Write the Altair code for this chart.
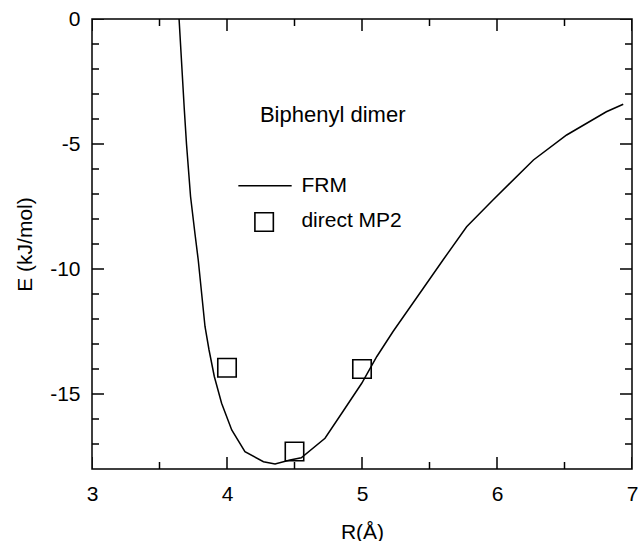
import altair as alt
import pandas as pd

# FRM curve
R = [3.645, 3.684, 3.70, 3.73, 3.763, 3.787, 3.812, 3.837, 3.867, 3.906, 3.96, 4.035,
     4.133, 4.27, 4.356, 4.467, 4.55, 4.726, 4.85, 4.998, 5.11, 5.23, 5.454, 5.6,
     5.775, 5.97, 6.27, 6.516, 6.81, 6.935]
E = [0.0, -3.64, -5.0, -7.1, -8.6, -9.64, -10.97, -12.3, -13.24, -14.3, -15.37, -16.44,
     -17.31, -17.71, -17.8, -17.64, -17.55, -16.77, -15.77, -14.57, -13.5, -12.5, -10.77, -9.64,
     -8.31, -7.24, -5.64, -4.64, -3.71, -3.41]

# direct MP2 points
mp2_R = [4.0, 4.5, 5.0]
mp2_E = [-13.95, -17.3, -14.0]

# ticks
x_major = [3, 4, 5, 6, 7]
x_minor = [3.5, 4.5, 5.5, 6.5]
y_major = [0, -5, -10, -15]
y_minor = [-1, -2, -3, -4, -6, -7, -8, -9, -11, -12, -13, -14, -16, -17]

X_DOM = [3, 7]
Y_DOM = [-18, 0]
FONT = "Liberation Sans"

curve = pd.DataFrame({"R": R, "E": E})
mp2 = pd.DataFrame({"R": mp2_R, "E": mp2_E})

xscale = alt.Scale(domain=X_DOM, nice=False, zero=False)
yscale = alt.Scale(domain=Y_DOM, nice=False, zero=False)

LABEL_EXPR = "datum.value < 0 ? '-' + format(-datum.value, 'd') : format(datum.value, 'd')"

xaxis = alt.Axis(values=x_major, ticks=False, tickSize=0, domain=False, grid=False,
                 labelExpr=LABEL_EXPR,
                 labelFontSize=21, labelPadding=14, labelFlush=False, labelOverlap=False,
                 labelColor="black", labelFont=FONT,
                 title="R(Å)", titleFontSize=21, titleFontWeight="normal", titleFont=FONT,
                 titleBaseline="alphabetic", titleY=69, titleColor="black")
yaxis = alt.Axis(values=y_major, ticks=False, tickSize=0, domain=False, grid=False,
                 labelExpr=LABEL_EXPR,
                 labelFontSize=21, labelPadding=12, labelFlush=False, labelOverlap=False,
                 labelColor="black", labelFont=FONT,
                 title="E (kJ/mol)", titleFontSize=21, titleFontWeight="normal", titleFont=FONT,
                 titleBaseline="alphabetic", titleX=-61, titleColor="black")

line = alt.Chart(curve).mark_line(color="black", strokeWidth=1.5, clip=True).encode(
    x=alt.X("R:Q", scale=xscale, axis=xaxis),
    y=alt.Y("E:Q", scale=yscale, axis=yaxis),
)

points = alt.Chart(mp2).mark_point(shape="square", size=340, color="black", opacity=1,
                                   strokeWidth=1.6, filled=False).encode(
    x="R:Q", y="E:Q")


def xticks(vals, length):
    df = pd.DataFrame({"v": vals})
    layers = []
    for edge in Y_DOM:
        layers.append(alt.Chart(df).mark_tick(orient="vertical", size=2 * length, opacity=1,
                                              thickness=1.5, color="black", clip=True).encode(
            x="v:Q", y=alt.datum(edge)))
    return layers


def yticks(vals, length):
    df = pd.DataFrame({"v": vals})
    layers = []
    for edge in X_DOM:
        layers.append(alt.Chart(df).mark_tick(orient="horizontal", size=2 * length, opacity=1,
                                              thickness=1.5, color="black", clip=True).encode(
            y="v:Q", x=alt.datum(edge)))
    return layers


tick_layers = xticks(x_major, 12) + xticks(x_minor, 7) + yticks(y_major, 12) + yticks(y_minor, 7)

base = alt.Chart(pd.DataFrame({"a": [0]}))
leg_line = base.mark_rule(color="black", strokeWidth=1.5).encode(
    x=alt.datum(4.084), x2=alt.datum(4.479), y=alt.datum(-6.67))
leg_sq = base.mark_point(shape="square", size=340, color="black", strokeWidth=1.6, opacity=1,
                         filled=False).encode(x=alt.datum(4.275), y=alt.datum(-8.12))
t_frm = base.mark_text(align="left", baseline="alphabetic", fontSize=21, font=FONT,
                       color="black").encode(x=alt.datum(4.551), y=alt.datum(-6.91),
                                             text=alt.value("FRM"))
t_mp2 = base.mark_text(align="left", baseline="alphabetic", fontSize=21, font=FONT,
                       color="black").encode(x=alt.datum(4.551), y=alt.datum(-8.31),
                                             text=alt.value("direct MP2"))
t_title = base.mark_text(align="left", baseline="alphabetic", fontSize=22, font=FONT,
                         color="black").encode(x=alt.datum(4.244), y=alt.datum(-4.13),
                                               text=alt.value("Biphenyl dimer"))

chart = alt.layer(line, points, *tick_layers, leg_line, leg_sq, t_frm, t_mp2, t_title).properties(
    width=540, height=450,
    autosize=alt.AutoSizeParams(type="none"),
    padding={"left": 92, "top": 19, "right": 6, "bottom": 72},
    background="white",
).configure_view(stroke="black", strokeWidth=1.5)

chart.save("out.html", embed_options={"renderer": "svg", "actions": False})
